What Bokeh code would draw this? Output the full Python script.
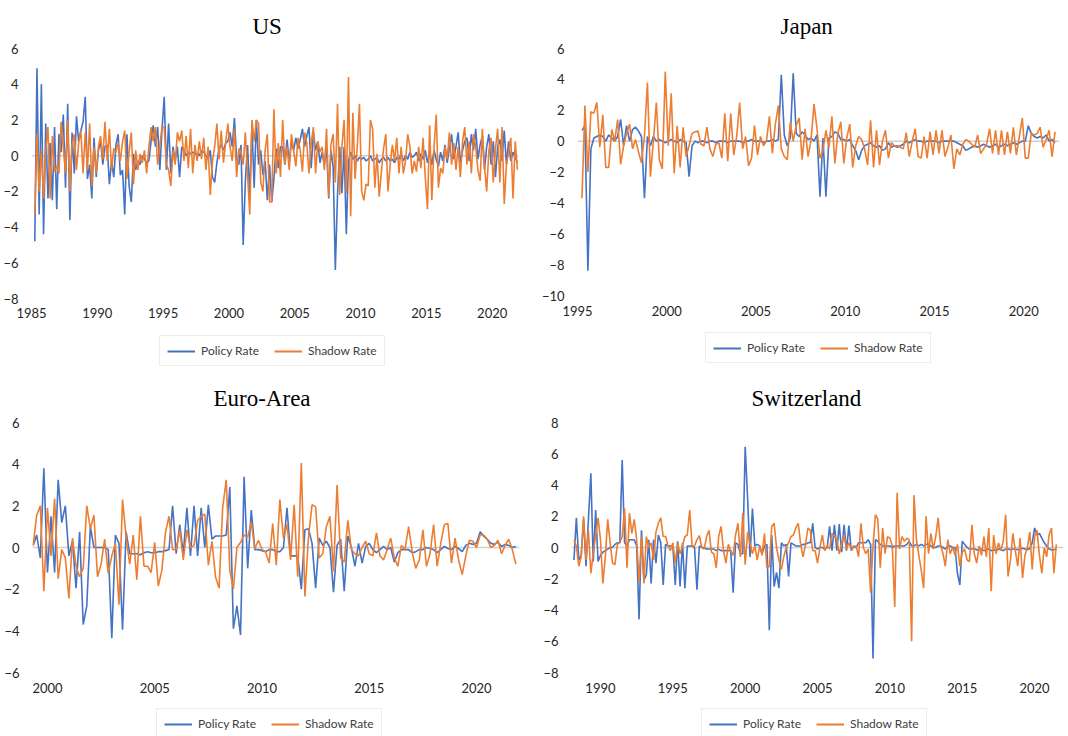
from bokeh.plotting import figure
from bokeh.models import Range1d, FixedTicker, Span, Legend
from bokeh.layouts import column, row
from bokeh.embed import file_html
from bokeh.resources import INLINE

# ---------------- data (bimonthly readings) ----------------
us_start = 1985.25
us_policy = [
    -4.8, 4.9, -3.3, 4.0, -4.4,
    1.8, -2.4, 0.7, -2.5, 1.6, -3.0,
    1.2, 0.2, 2.3, -1.8, 2.9, -3.6,
    1.3, -1.0, 2.2, 0.8, 1.4, 1.9,
    3.3, -1.3, -0.5, -2.4, 1.0, -1.2,
    0.3, 0.8, -0.5, 0.5, 0.6, -1.6,
    -0.3, -1.2, 0.6, 1.2, -1.1, -0.8,
    -3.3, 1.2, -1.7, -2.6, 0.1, -0.8,
    -0.3, -0.5, 0.0, -0.2, -0.4, -0.3,
    0.8, 1.7, 0.5, 1.6, -0.8, 1.5,
    3.3, -0.8, 1.8, -1.0, 0.5, -0.3,
    0.5, -1.2, 0.5, 0.3, 0.0, 0.2,
    0.1, 0.2, 0.1, 0.1, 0.0, 0.3,
    0.2, 0.0, -0.2, 0.3, -1.2, -1.5,
    -0.4, 0.4, 0.6, 0.3, 0.7, 0.8,
    1.3, 0.5, 2.1, -0.2, -0.5, 0.6,
    -5.0, -1.4, 0.6, -2.3, 1.7, -1.8,
    2.0, -0.5, 0.3, -1.1, -0.3, -2.5,
    -0.5, -2.6, -1.3, 0.4, -0.7, 0.5,
    0.5, -0.5, 0.9, -0.4, 0.8, 0.3,
    1.0, 0.4, 0.9, 1.5, 0.5, 1.1,
    1.6, -0.7, 1.3, 0.3, 0.8, -0.4,
    0.2, -0.5, 0.5, -2.4, 0.3, -0.6,
    -6.4, -2.2, 0.5, -2.1, 0.5, -4.4,
    -0.3, 0.2, -0.2, 0.0, -0.3, -0.1,
    -0.2, -0.1, -0.3, -0.2, 0.0, -0.3,
    -0.2, -0.1, -0.4, -0.2, -0.1, -0.3,
    -0.1, -0.3, -0.2, -0.4, -0.1, -0.2,
    0.1, -0.3, 0.0, -0.2, 0.2, -0.1,
    0.0, 0.2, -0.3, 0.1, -0.2, 0.3,
    -0.4, 0.2, -0.5, 0.3, -0.2, -0.6,
    0.2, -0.3, 0.6, -0.4, 0.4, 1.2,
    -0.2, 0.5, 1.3, -0.4, 0.3, 0.8,
    1.0, -0.3, 1.2, 0.3, 1.5, -0.2,
    0.6, 1.1, -0.8, 0.5, 1.2, -0.5,
    0.8, -1.2, 0.5, 0.9, -0.3, 1.4,
    -0.5, 0.8, -0.3, 0.2, -0.1, -0.4,
]
us_shadow = [
    -3.3, 1.2, -2.0, 0.3, -2.4,
    0.3, 1.6, -2.4, 1.1, -0.9, -0.6,
    -1.0, 1.9, 0.5, -1.0, 2.0, -2.0,
    0.6, 1.2, -0.8, 0.7, 1.4, -1.0,
    1.3, -0.8, 1.8, -1.7, 0.5, -1.0,
    0.5, 1.1, -0.2, 1.9, -0.3, 1.5,
    -0.8, 0.4, 0.2, 0.7, -0.3, 0.8,
    1.4, -1.3, 0.2, 1.3, -1.6, 0.3,
    -0.8, 0.1, -0.4, 0.3, -1.0, 0.5,
    1.6, 0.8, 1.6, -0.5, 0.6, 1.6,
    1.6, -0.5, -0.8, -1.7, 0.3, -0.5,
    1.3, 0.8, 1.4, -0.3, 1.1, -0.7,
    1.5, -1.0, 0.6, -0.3, 0.8, -0.2,
    1.0, -0.8, 0.5, -2.2, -0.3, 0.5,
    1.8, -0.2, 1.4, -0.4, 0.7, 1.8,
    0.5, -0.3, 1.5, -1.2, 0.4, 0.2,
    -0.5, 1.3, -1.1, -3.3, 2.0, 0.8,
    2.0, 1.8, -1.5, -2.0, 0.3, 1.2,
    -2.6, -2.6, 2.6, -1.0, 0.7, -1.2,
    2.0, -0.5, 0.5, -0.8, 1.2, 0.3,
    -0.6, 1.0, 0.3, -0.9, 1.3, 0.7,
    -1.0, 0.7, 1.6, -1.0, 0.8, 0.2,
    0.5, -0.8, 1.5, -2.3, 0.6, 1.2,
    -1.5, 2.9, -2.2, 0.5, 2.0, -2.1,
    4.4, -3.4, 2.4, -1.3, 0.5, 2.9,
    -2.0, -2.5, -1.6, -1.7, 2.0, 1.5,
    -1.8, 0.1, -2.3, -0.9, 0.4, 1.2,
    -2.0, -0.5, 0.6, -0.3, 1.0, -1.0,
    0.5, -1.0, -0.3, 1.2, 0.5, -1.0,
    -0.3, -0.9, 0.5, -0.7, 1.0, -1.2,
    -3.0, 1.7, -2.5, 0.5, 2.3, -1.8,
    -0.7, -1.0, 0.5, -0.2, 1.3, -0.5,
    0.7, -0.8, 0.5, -1.2, 0.8, 1.6,
    -0.5, 0.8, -1.0, 1.2, 0.5, -0.8,
    -1.4, 1.5, -0.6, -2.0, 0.3, 1.0,
    -1.5, 0.4, 1.5, -1.5, 1.6, -2.7,
    -0.5, 0.2, 1.0, -2.4, 0.8, -0.8,
]

jp_start = 1995.25
jp_policy = [
    0.7, 1.0, -8.4, -0.5, 0.2,
    0.3, 0.4, 0.3, 0.0, 0.4, 0.2,
    0.0, 0.3, 1.4, -0.3, 1.0, 0.0,
    0.75, 0.9, 0.65, 0.3, -3.7, 0.3,
    -0.3, 0.3, 0.0, 0.1, 0.0, -0.1,
    0.0, 0.1, 0.0, -0.1, 0.1, 0.0,
    -0.1, -2.3, -0.3, 0.0, -0.1, 0.0,
    0.0, -0.1, 0.0, 0.0, -0.1, 0.0,
    0.0, 0.0, -0.1, 0.0, 0.0, 0.0,
    0.0, -0.1, 0.0, 0.0, 0.1, 0.0,
    0.0, 0.0, -0.1, 0.0, 0.0, 0.1,
    0.0, 0.1, 4.3, 0.4, -0.3, 0.2,
    4.4, 0.5, 0.3, 0.6, 0.4, 0.1,
    0.2, 0.0, 0.4, -3.6, 0.2, -3.6,
    0.2, 0.3, 0.6, 0.5, 0.1, 0.1,
    0.0, 0.1, -0.3, -0.6, -1.2, -0.6,
    -0.3, -0.2, -0.1, -0.3, -0.4, -0.3,
    -0.6, -0.5, -0.1, -0.4, -0.3, -0.4,
    -0.3, -0.2, 0.0, -0.1, 0.0, 0.1,
    0.0, 0.0, -0.1, 0.0, 0.0, 0.0,
    0.0, -0.1, 0.0, 0.0, 0.0, 0.0,
    0.0, -0.1, -0.2, -0.3, -0.6, -0.5,
    -0.4, -0.3, -0.4, -0.3, -0.2, -0.3,
    -0.4, -0.3, -0.2, -0.4, -0.3, -0.2,
    -0.3, -0.2, -0.1, -0.2, -0.1, 0.0,
    0.0, 1.0, 0.5, 0.3, 0.2, 0.3,
    0.2, 0.4, 0.0, 0.1, -0.1,
]
jp_shadow = [
    -3.7, 2.3, -2.0, 1.9, 1.8,
    2.5, -0.4, 1.7, -1.7, -1.7, 0.75,
    0.0, 1.4, -1.5, -0.3, 0.5, 1.1,
    -0.5, 0.1, -0.7, -1.4, 0.3, 3.8,
    -2.3, 0.0, 2.5, -1.2, -1.8, 4.5,
    -0.3, 3.1, -2.1, 1.0, -1.7, 0.9,
    -1.0, -0.3, 0.5, 0.6, 0.65, -0.2,
    -0.3, 0.9, -0.5, -1.0, -0.2, -0.1,
    -1.1, 1.8, -1.3, 1.8, -0.9, 0.3,
    2.5, -0.5, 0.3, -1.6, -1.1, 1.0,
    -0.9, 0.3, -0.3, 0.0, 1.6, -0.8,
    1.1, 2.3, -0.5, -1.0, -1.2, 1.2,
    0.0, 1.0, 1.5, -1.2, 0.8, -1.0,
    0.1, 2.4, 0.8, -1.1, -0.6, 0.7,
    -0.4, 1.6, -1.45, 0.5, 1.25, -1.45,
    0.2, 1.1, -1.7, -0.3, 0.3, 0.1,
    -0.5, -1.55, 1.35, -1.7, 0.7, -1.55,
    0.0, 0.7, -1.1, -0.1, -0.3, -0.3,
    -0.4, -0.5, 0.55, -1.0, 0.0, 0.8,
    -1.0, -1.1, 0.3, -1.1, 0.6, -0.9,
    0.7, -0.8, 0.7, -1.0, -0.4, 0.4,
    -1.8, -0.5, -0.9, -0.2, 0.1, 0.0,
    -0.2, -0.4, 0.4, -0.8, -0.5, -0.2,
    0.8, -0.8, 0.7, -0.9, 0.7, -0.9,
    0.6, -0.8, 0.9, -0.9, 0.3, 1.5,
    -1.1, -1.1, 0.5, 0.4, 0.5, 0.9,
    -0.4, 0.1, 0.7, -1.0, 0.6,
]

ea_start = 1999.33
ea_policy = [
    0.1, 0.6, -0.5, 3.8, -1.2, 1.5,
    -1.2, 3.25, 1.2, 2.0, -0.4, 0.3,
    -1.95, 0.75, -3.7, -2.8, 1.0, 0.0,
    0.0, 0.0, 0.0, -0.1, -4.35, 0.6,
    0.2, -3.95, 0.75, -0.3, -0.3, -0.3,
    -0.35, -0.25, -0.2, -0.25, -0.25, -0.2,
    -0.2, -0.15, -0.1, 2.0, -0.3, 1.1,
    -0.3, 1.9, -0.4, 2.0, -0.4, 1.9,
    0.0, 2.05, 0.4, 0.55, 0.55, 0.55,
    0.6, 2.9, -3.9, -2.8, -4.2, 3.4,
    -1.0, 1.8, -0.1, -0.1, -0.15, -0.2,
    -0.1, -0.1, -0.2, -0.2, 0.0, 1.9,
    -0.4, -0.4, -0.4, -2.0, 0.85, 0.9,
    0.2, -1.95, 0.45, 0.1, 0.3, 0.0,
    -2.15, 0.1, 0.4, -2.1, 0.55, 0.0,
    -0.9, 0.2, -0.75, 0.05, 0.2, -0.1,
    -0.25, -0.1, 0.05, -0.1, 0.0, -0.7,
    -0.25, -0.1, -0.1, -0.1, -0.25, -0.2,
    -0.1, -0.1, 0.0, -0.05, -0.1, -0.25,
    -0.1, 0.05, -0.05, -0.1, 0.05, -0.05,
    -0.2, 0.1, 0.2, 0.15, 0.2, 0.75,
    0.55, 0.4, 0.2, 0.15, 0.25, 0.05,
    0.15, 0.1, 0.0, 0.05,
]
ea_shadow = [
    0.1, 1.55, 2.0, -2.1, 1.9, -0.4,
    2.35, -1.5, -0.1, -0.5, -2.45, 0.45,
    -0.9, -1.4, -1.0, 2.0, 0.9, 1.55,
    -1.4, -0.8, 0.4, -1.25, -0.4, 0.2,
    -2.75, 2.3, 0.5, -0.8, 0.6, -1.55,
    1.5, -0.9, -0.9, -1.2, 0.25, -1.85,
    -1.1, 0.7, 1.5, -0.1, -0.1, 0.85,
    -0.6, 0.85, 0.0, 0.1, 1.3, 1.5,
    1.6, -0.85, 0.3, -1.4, -1.95, 1.9,
    3.25, -1.1, -2.0, 0.0, 0.25, 0.6,
    0.5, 1.2, -0.05, 0.35, -0.1, -0.2,
    -0.75, 1.15, -0.85, 2.3, 0.45, 1.1,
    -0.6, 2.05, -1.4, 4.05, -2.35, 0.5,
    2.05, 1.95, -0.5, -0.3, 1.0, 1.5,
    -1.15, 3.0, -0.5, -0.7, 1.3, -0.1,
    -0.3, -0.4, 0.0, 0.3, -0.3, -0.4,
    0.7, -0.4, -0.6, -0.1, 0.45, -0.5,
    -0.9, 0.1, -0.1, 1.0, -0.2, -1.0,
    -0.6, 0.85, -0.9, -0.3, 1.1, -0.9,
    0.2, 1.1, 1.15, -0.75, 0.45, -0.6,
    -1.3, -0.4, 0.35, 0.3, 0.0, 0.6,
    0.6, 0.4, 0.0, 0.1, 0.35, -0.3,
    0.1, 0.4, -0.1, -0.8,
]

ch_start = 1988.17
ch_policy = [
    -0.8, 1.9, -0.8, -0.5, 1.8,
    -1.2, 1.8, 4.75, -0.9, 2.4, -0.9,
    -0.5, -0.3, -0.2, -0.1, 0.0, 0.0,
    0.2, 0.3, 0.3, 5.6, 0.3, 0.1,
    0.5, 0.5, 0.5, 0.1, -4.6, 1.1,
    -2.1, -1.75, 0.5, -2.3, 0.5, -1.0,
    0.8, 0.3, -2.4, 0.2, 0.1, 0.1,
    0.1, -2.4, 0.4, -2.5, 0.3, -2.6,
    0.1, 0.1, 0.1, 0.0, -2.7, 0.1,
    0.0, 0.0, -0.1, -0.1, -0.1, -0.1,
    -0.2, -0.1, -0.2, -0.2, -0.2, -0.2,
    -0.2, -2.9, 0.3, 0.2, -0.4, -0.4,
    6.45, 3.15, -0.6, 2.5, 0.1, 0.2,
    0.1, -0.4, 0.1, 0.2, -5.3, 0.8,
    -2.5, -1.6, -2.6, 0.3, 0.1, 0.2,
    -1.85, 0.3, 0.2, 0.1, 0.1, 0.1,
    0.2, 0.2, 0.3, 0.3, 1.55, 0.0,
    -0.1, 0.0, 0.0, -0.1, 0.0, 1.35,
    -0.2, 1.45, -0.2, 1.5, -0.3, 1.45,
    -0.2, 1.4, -0.2, 0.1, 0.0, 0.3,
    0.3, 0.3, 0.3, 0.5, 0.2, -7.1,
    0.5, 0.4, 0.2, 0.1, 0.1, 0.1,
    0.1, 0.0, 0.1, 0.1, 0.1, 0.1,
    0.1, 0.2, 0.4, 0.1, 0.1, 0.2,
    0.1, 0.2, 0.1, 0.2, 0.2, 0.1,
    0.0, 0.0, 0.1, 0.1, 0.0, -0.1,
    0.1, 0.1, 0.0, 0.0, -1.65, -2.4,
    0.4, 0.2, 0.0, -0.1, -0.1, -0.1,
    -0.15, -0.15, -0.1, -0.2, -0.15, -0.1,
    -0.2, -0.15, -0.2, -0.1, -0.15, -0.2,
    -0.1, -0.1, -0.15, -0.1, -0.1, -0.15,
    -0.1, -0.05, -0.1, -0.15, -0.05, 0.3,
    1.25, 0.8, 0.9, 0.6, 0.3, 0.1,
    -0.1, -0.15, -0.15, -0.1,
]
ch_shadow = [
    0.5, 0.1, -1.2, -0.6, 2.0,
    -0.8, 1.1, -1.65, -0.4, 0.8, 1.9,
    0.5, -2.3, -0.6, 1.8, 0.3, -1.0,
    -1.1, 0.2, 0.3, 0.7, 2.5, -1.3,
    2.2, 0.9, 1.8, 0.5, -2.2, 0.7,
    -2.3, 0.7, 0.0, 0.3, -0.8, 1.0,
    1.55, 1.9, 0.7, 0.7, 0.1, -0.2,
    0.3, -1.0, 0.3, -0.4, 0.1, 0.7,
    0.8, 2.4, 0.1, 0.1, 0.5, 0.75,
    0.0, -0.1, 0.7, 1.1, -0.3, -0.4,
    -1.3, 0.7, 1.35, -0.2, -1.0, 0.2,
    -0.2, -0.5, 0.8, 1.55, -0.6, 2.2,
    -1.1, 1.0, 0.3, -0.4, 0.1, -0.8,
    0.1, -0.5, 0.9, -1.3, -1.2, 1.35,
    1.55, 0.0, -0.8, -1.4, -0.6, 0.0,
    0.3, 0.7, 0.8, 1.25, 1.55, 0.2,
    -0.6, 0.2, 1.25, 1.1, -0.2, -0.2,
    -1.0, 0.0, 0.8, -0.2, 0.1, -0.1,
    0.9, 0.7, 0.5, -0.4, 0.2, 0.8,
    -0.1, 0.3, -0.1, 0.0, 0.1, -0.6,
    1.55, 0.0, -0.4, -0.1, -2.9, 0.1,
    2.1, 1.8, -1.3, 1.25, -0.4, 0.7,
    0.6, 0.1, -3.8, 3.5, -0.1, 0.7,
    0.4, 0.6, 0.5, -6.0, 3.35, 0.5,
    -0.5, -1.45, -2.6, 2.0, -0.4, 0.9,
    -0.1, 0.7, 1.9, 0.2, -0.4, -1.2,
    0.5, -0.4, 0.0, -0.5, 0.2, -1.2,
    -0.3, -0.1, -0.8, -0.9, 1.45, -0.4,
    -1.0, 0.1, -0.5, 0.7, -0.6, 1.25,
    -2.8, 0.8, -0.4, 0.3, -0.2, 0.4,
    2.1, -1.85, -0.8, 0.9, -0.2, -1.2,
    0.6, -1.95, -0.5, 0.0, 1.0, -1.4,
    0.7, 1.1, -0.5, -1.65, 0.0, -0.6,
    0.8, 1.25, -1.65, 0.2,
]

us_xticks = [1985, 1990, 1995, 2000, 2005, 2010, 2015, 2020]
us_yticks = [-8, -6, -4, -2, 0, 2, 4, 6]
jp_xticks = [1995, 2000, 2005, 2010, 2015, 2020]
jp_yticks = [-10, -8, -6, -4, -2, 0, 2, 4, 6]
ea_xticks = [2000, 2005, 2010, 2015, 2020]
ea_yticks = [-6, -4, -2, 0, 2, 4, 6]
ch_xticks = [1990, 1995, 2000, 2005, 2010, 2015, 2020]
ch_yticks = [-8, -6, -4, -2, 0, 2, 4, 6, 8]

series_names = ["Policy Rate", "Shadow Rate"]
BLUE = "#4472C4"
ORANGE = "#ED7D31"
LW = 1.6


def panel(title, w, h, start, pol, sha, xr, yr, xticks, yticks,
          bl, br, bt, bb, toff, tstand, xstand, leg_h, leg_loc):
    p = figure(width=w, height=h, output_backend="svg", toolbar_location=None,
               x_range=Range1d(*xr), y_range=Range1d(*yr),
               min_border_left=bl, min_border_right=br,
               min_border_top=bt, min_border_bottom=bb)
    p.title.text = title
    p.title.align = "left"
    p.title.offset = toff
    p.title.standoff = tstand
    p.title.text_font = "Liberation Serif"
    p.title.text_font_size = "23px"
    p.title.text_font_style = "normal"
    p.title.text_color = "#000000"
    p.xgrid.visible = False
    p.ygrid.visible = False
    p.outline_line_color = None
    for ax in (p.xaxis[0], p.yaxis[0]):
        ax.axis_line_color = None
        ax.major_tick_line_color = None
        ax.minor_tick_line_color = None
        ax.major_label_text_font = "Lato"
        ax.major_label_text_font_size = "13px"
        ax.major_label_text_color = "#262626"
    p.yaxis[0].major_label_standoff = 7
    p.xaxis[0].major_label_standoff = xstand
    p.xaxis[0].ticker = FixedTicker(ticks=xticks)
    p.yaxis[0].ticker = FixedTicker(ticks=yticks)
    p.add_layout(Span(location=0, dimension="width", line_color="#D0D0D0",
                      line_width=1.5, level="underlay"))
    xp = [start + i / 6 for i in range(len(pol))]
    xs = [start + i / 6 for i in range(len(sha))]
    p.line(xp, pol, line_color=BLUE, line_width=LW)
    p.line(xs, sha, line_color=ORANGE, line_width=LW)

    # legend strip below the chart (its renderers lie outside its view)
    q = figure(width=w, height=leg_h, output_backend="svg", toolbar_location=None,
               x_axis_type=None, y_axis_type=None,
               x_range=Range1d(0, 1), y_range=Range1d(0, 1),
               min_border=0, min_border_left=0, min_border_right=0,
               min_border_top=0, min_border_bottom=0)
    q.outline_line_color = None
    q.xgrid.visible = False
    q.ygrid.visible = False
    d1 = q.line(xp, pol, line_color=BLUE, line_width=2)
    d2 = q.line(xs, sha, line_color=ORANGE, line_width=2)
    leg = Legend(items=[(series_names[0], [d1]), (series_names[1], [d2])],
                 location=leg_loc, orientation="horizontal")
    leg.glyph_width = 28
    leg.glyph_height = 14
    leg.label_standoff = 6
    leg.spacing = 15
    leg.padding = 7
    leg.margin = 0
    leg.label_text_font = "Lato"
    leg.label_text_font_size = "12px"
    leg.label_text_color = "#404040"
    leg.label_height = 12
    leg.border_line_color = "#D9D9D9"
    leg.border_line_width = 1
    leg.background_fill_color = "white"
    q.add_layout(leg)
    return column(p, q, spacing=0)


c1 = panel("US", 534, 330, us_start, us_policy, us_shadow, (1985, 2022), (-8, 6),
           us_xticks, us_yticks, 27, 16, 48, 32, 221, 20, 3, 40, (128, 4))
c2 = panel("Japan", 534, 330, jp_start, jp_policy, jp_shadow, (1995, 2022), (-10, 6),
           jp_xticks, jp_yticks, 43, 9, 48, 35, 203, 20, 4, 40, (128, 7))
c3 = panel("Euro-Area", 534, 334, ea_start, ea_policy, ea_shadow, (1999.3, 2022), (-6, 6),
           ea_xticks, ea_yticks, 32, 15, 52, 32, 181, 24, 4, 32, (124, -3))
c4 = panel("Switzerland", 534, 334, ch_start, ch_policy, ch_shadow, (1988, 2022), (-8, 8),
           ch_xticks, ch_yticks, 37, 5, 52, 32, 180, 24, 4, 32, (130, -3))

layout = column(row(c1, c2, spacing=0), row(c3, c4, spacing=0), spacing=0)
open("out.html", "w").write(file_html(layout, INLINE))
